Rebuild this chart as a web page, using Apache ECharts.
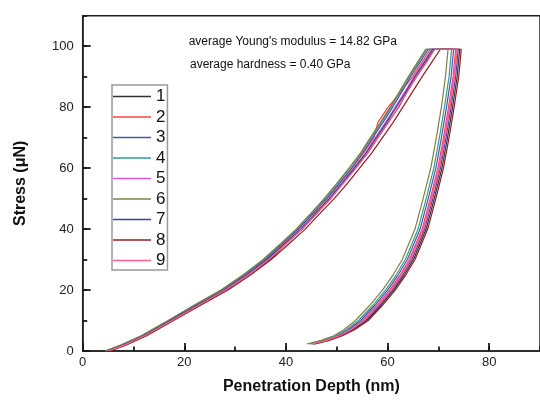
<!DOCTYPE html>
<html>
<head>
<meta charset="utf-8">
<script src="https://cdn.jsdelivr.net/npm/echarts@6/dist/echarts.min.js"></script>
<style>html,body{margin:0;padding:0;background:#fff}#c{width:540px;height:400px}</style>
</head>
<body>
<div id="c"></div>
<script>
// ---- data ----
var seriesNames = ['1','2','3','4','5','6','7','8','9'];
var seriesColors = ['#333333','#ff4040','#5050b0','#339999','#e055c8','#808040','#4040a0','#902020','#ff6090'];

// loading branch: stress levels (µN) and depth (nm) of each curve
var loadStress = [0,2,5,10,15,20,25,30,35,40,45,50,55,60,65,70,75,80,85,90,95,99];
var loadDepth1 = [5.2,8.4,12.3,17.6,22.9,28.2,32.6,36.8,39.9,43.2,46.0,48.8,51.1,53.7,56.1,58.1,60.1,62.2,63.8,65.7,67.7,69.2];
var loadDepth2 = [4.6,7.8,11.7,17.0,22.2,27.5,31.9,35.9,39.3,42.5,45.3,48.1,50.6,53.0,55.3,57.3,58.1,60.1,62.6,64.9,66.9,68.4];
var loadDepth3 = [4.8,8.0,11.9,17.2,22.3,27.6,32.0,36.0,39.1,42.4,45.2,48.0,50.5,52.9,55.1,57.1,59.1,61.0,62.8,64.5,66.5,68.0];
var loadDepth4 = [4.5,7.7,11.6,16.9,22.0,27.3,31.7,35.7,39.0,42.1,44.9,47.7,50.2,52.5,54.8,56.8,58.8,60.7,62.4,64.2,66.2,67.7];
var loadDepth5 = [5.0,8.2,12.1,17.4,22.6,27.9,32.3,36.4,39.7,42.9,45.7,48.5,51.0,53.4,55.7,57.6,59.6,61.5,63.4,65.2,67.2,68.7];
var loadDepth6 = [4.4,7.6,11.5,16.8,21.9,27.2,31.6,35.5,38.8,42.0,44.8,47.5,50.0,52.4,54.7,56.6,58.6,60.5,62.3,64.1,66.0,67.5];
var loadDepth7 = [4.9,8.1,12.0,17.3,22.5,27.9,32.3,36.3,39.6,42.9,45.7,48.5,51.0,53.4,55.8,57.8,59.8,61.7,63.6,65.4,67.4,68.9];
var loadDepth8 = [5.4,8.6,12.6,17.9,23.2,28.6,33.1,37.1,40.5,43.8,46.6,49.5,52.1,54.5,56.9,59.0,61.1,63.0,64.9,66.8,68.8,70.4];
var loadDepth9 = [5.1,8.3,12.2,17.6,22.8,28.1,32.6,36.6,39.9,43.1,46.0,48.8,51.3,53.8,56.1,58.1,60.2,62.1,63.9,65.7,67.8,69.3];

// unloading branch
var unloadStress = [99,90,80,70,60,50,40,30,25,20,15,10,7,5,3.5,2.3];
var unloadDepth1 = [74.2,73.7,72.8,71.8,70.7,69.2,67.6,65.1,63.3,61.2,58.7,55.9,53.2,50.9,48.3,45.5];
var unloadDepth2 = [73.4,72.9,72.0,71.0,69.9,68.4,66.8,64.3,62.5,60.4,57.9,55.1,52.6,50.4,47.9,45.1];
var unloadDepth3 = [73.0,72.5,71.6,70.6,69.5,68.0,66.4,63.9,62.1,60.0,57.5,54.7,52.3,50.1,47.6,44.8];
var unloadDepth4 = [72.6,72.1,71.2,70.2,69.1,67.6,66.0,63.5,61.7,59.6,57.1,54.3,51.9,49.8,47.4,44.6];
var unloadDepth5 = [73.6,73.1,72.2,71.2,70.1,68.6,67.0,64.5,62.7,60.6,58.1,55.3,52.7,50.5,48.0,45.2];
var unloadDepth6 = [71.9,71.4,70.6,69.6,68.5,67.0,65.4,62.9,61.1,59.0,56.5,53.7,51.4,49.4,46.9,44.1];
var unloadDepth7 = [73.9,73.4,72.5,71.5,70.4,68.9,67.3,64.8,63.0,60.9,58.4,55.6,53.0,50.7,48.2,45.4];
var unloadDepth8 = [74.5,74.0,73.1,72.1,71.0,69.5,67.9,65.4,63.6,61.5,59.0,56.2,53.5,51.1,48.5,45.7];
var unloadDepth9 = [73.7,73.2,72.3,71.3,70.2,68.7,67.1,64.6,62.8,60.7,58.2,55.4,52.8,50.6,48.0,45.2];

var xTicks = [0,20,40,60,80];
var yTicks = [0,20,40,60,80,100];
var annotation1 = "average Young's modulus = 14.82 GPa";
var annotation2 = "average hardness = 0.40 GPa";
var xTitle = 'Penetration Depth (nm)';
var yTitle = 'Stress (\u03bcN)';

// ---- build ----
var loads = [loadDepth1,loadDepth2,loadDepth3,loadDepth4,loadDepth5,loadDepth6,loadDepth7,loadDepth8,loadDepth9];
var unloads = [unloadDepth1,unloadDepth2,unloadDepth3,unloadDepth4,unloadDepth5,unloadDepth6,unloadDepth7,unloadDepth8,unloadDepth9];
var FONT = '"Liberation Sans", Arial, sans-serif';

var series = seriesNames.map(function (name, i) {
  var d = loads[i].map(function (x, k) { return [x, loadStress[k]]; })
    .concat(unloads[i].map(function (x, k) { return [x, unloadStress[k]]; }));
  return {
    name: name, type: 'line', data: d, xAxisIndex: 0, yAxisIndex: 0,
    showSymbol: false, symbol: 'none', animation: false,
    lineStyle: { width: 1.2, color: seriesColors[i] },
    itemStyle: { color: seriesColors[i] }
  };
});

var tickStyle = { color: '#1a1a1a', width: 1.8 };
var chart = echarts.init(document.getElementById('c'), null, { renderer: 'canvas' });
chart.setOption({
  animation: false,
  grid: { left: 82.7, top: 15.7, right: -5, bottom: 47.3, show: true, borderColor: '#222', borderWidth: 1.5, containLabel: false },
  xAxis: [{
    type: 'value', min: 0, max: 90, interval: 20,
    name: xTitle, nameLocation: 'middle', nameGap: 28,
    nameTextStyle: { fontFamily: FONT, fontSize: 16, fontWeight: 'bold', color: '#111' },
    axisLine: { show: true, lineStyle: { color: '#222', width: 1.5 } },
    axisTick: { show: true, inside: true, length: 8, lineStyle: tickStyle },
    axisLabel: { fontFamily: FONT, fontSize: 13, color: '#222', margin: 5, showMaxLabel: false,
      formatter: function (v) { return xTicks.indexOf(v) >= 0 ? String(v) : ''; } },
    splitLine: { show: false }
  }, {
    type: 'value', min: 0, max: 90, interval: 10, position: 'bottom',
    axisLine: { show: false }, axisLabel: { show: false }, splitLine: { show: false },
    axisTick: { show: true, inside: true, length: 4.5, lineStyle: tickStyle }
  }],
  yAxis: [{
    type: 'value', min: 0, max: 110, interval: 20,
    name: yTitle, nameLocation: 'middle', nameGap: 54,
    nameTextStyle: { fontFamily: FONT, fontSize: 16, fontWeight: 'bold', color: '#111' },
    axisLine: { show: true, lineStyle: { color: '#222', width: 1.5 } },
    axisTick: { show: true, inside: true, length: 8, lineStyle: tickStyle },
    axisLabel: { fontFamily: FONT, fontSize: 13, color: '#222', margin: 9, showMaxLabel: false,
      formatter: function (v) { return yTicks.indexOf(v) >= 0 ? String(v) : ''; } },
    splitLine: { show: false }
  }, {
    type: 'value', min: 0, max: 110, interval: 10, position: 'left',
    axisLine: { show: false }, axisLabel: { show: false }, splitLine: { show: false },
    axisTick: { show: true, inside: true, length: 4.5, lineStyle: tickStyle }
  }],
  legend: {
    data: seriesNames, orient: 'vertical', left: 112, top: 85,
    padding: [3, 2, 1, 1], itemGap: 3.5, itemWidth: 38, itemHeight: 1.5, icon: 'rect',
    backgroundColor: '#fff', borderColor: '#999', borderWidth: 1.5, borderRadius: 0,
    selectedMode: false,
    textStyle: { fontFamily: FONT, fontSize: 17, lineHeight: 17, color: '#111', padding: [0, 0, 0, 0] }
  },
  graphic: [
    { type: 'text', left: 188.7, top: 36, silent: true,
      style: { text: annotation1, font: '12px ' + FONT, fill: '#111' } },
    { type: 'text', left: 190, top: 59, silent: true,
      style: { text: annotation2, font: '12px ' + FONT, fill: '#111' } }
  ],
  series: series
});
</script>
</body>
</html>
